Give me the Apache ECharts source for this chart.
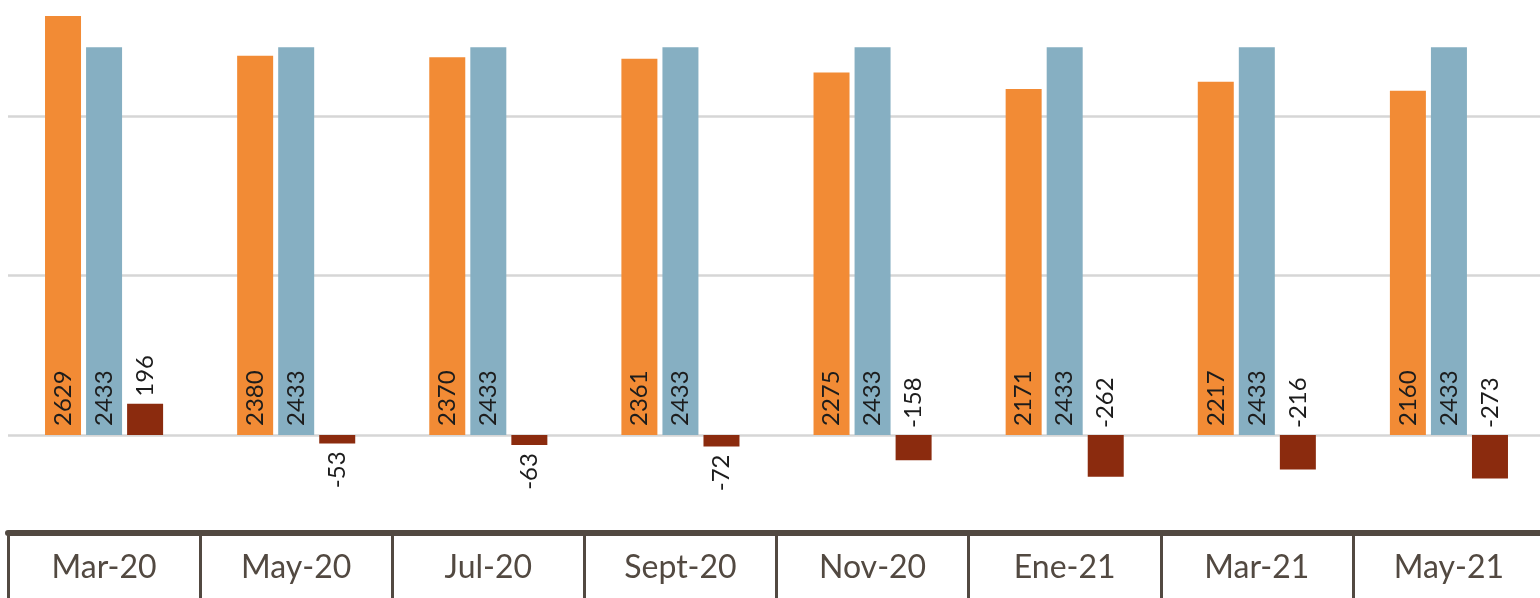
<!DOCTYPE html>
<html>
<head>
<meta charset="utf-8">
<script src="https://cdn.jsdelivr.net/npm/echarts@6/dist/echarts.min.js"></script>
<style>
html,body{margin:0;padding:0;background:#fff;}
#chart{width:1540px;height:598px;}
</style>
</head>
<body>
<div id="chart"></div>
<script>
const categories = ['Mar-20','May-20','Jul-20','Sept-20','Nov-20','Ene-21','Mar-21','May-21'];
const seriesA = [2629, 2380, 2370, 2361, 2275, 2171, 2217, 2160];
const seriesB = [2433, 2433, 2433, 2433, 2433, 2433, 2433, 2433];
const seriesDiff = [196, -53, -63, -72, -158, -262, -216, -273];
const gridValues = [0, 1000, 2000];

const labelFont = 'Lato';
const valueLabelBase = {
  show: true, rotate: 90, fontFamily: labelFont, fontSize: 24, color: '#1c1c1c'
};

const chart = echarts.init(document.getElementById('chart'));
chart.setOption({
  animation: false,
  grid: { left: 8, right: -5, top: 0, bottom: 65, containLabel: false, outerBoundsMode: 'none' },
  xAxis: {
    type: 'category',
    data: categories,
    axisLine: { show: true, onZero: false, lineStyle: { color: '#524941', width: 6 } },
    axisTick: { show: true, alignWithLabel: false, length: 80, lineStyle: { color: '#524941', width: 3 } },
    axisLabel: { fontFamily: labelFont, fontSize: 32, color: '#524941', margin: 19 },
    splitLine: { show: false }
  },
  yAxis: {
    type: 'value', min: -615, max: 2730, show: false,
    splitLine: { show: false }
  },
  series: [
    {
      type: 'bar', data: seriesA, barWidth: 36, barGap: '14%',
      itemStyle: { color: '#F28B35' },
      label: Object.assign({}, valueLabelBase, { position: 'insideBottom', distance: 9, align: 'left', verticalAlign: 'middle' }),
      markLine: {
        silent: true, symbol: 'none', z: 1,
        label: { show: false },
        lineStyle: { color: '#d6d6d6', width: 2.5, type: 'solid' },
        data: gridValues.map(v => ({ yAxis: v }))
      }
    },
    {
      type: 'bar', data: seriesB, barWidth: 36, barGap: '14%',
      itemStyle: { color: '#86AFC2' },
      label: Object.assign({}, valueLabelBase, { position: 'insideBottom', distance: 9, align: 'left', verticalAlign: 'middle' })
    },
    {
      type: 'bar', barWidth: 36, barGap: '14%',
      itemStyle: { color: '#8B2B0E' },
      data: seriesDiff.map(v => ({
        value: v,
        label: (v >= 0 || v < -100)
          ? { position: 'top', align: 'left', verticalAlign: 'middle', distance: 7 }
          : { position: 'bottom', align: 'right', verticalAlign: 'middle', distance: 8 }
      })),
      label: Object.assign({}, valueLabelBase)
    }
  ]
});
</script>
</body>
</html>
